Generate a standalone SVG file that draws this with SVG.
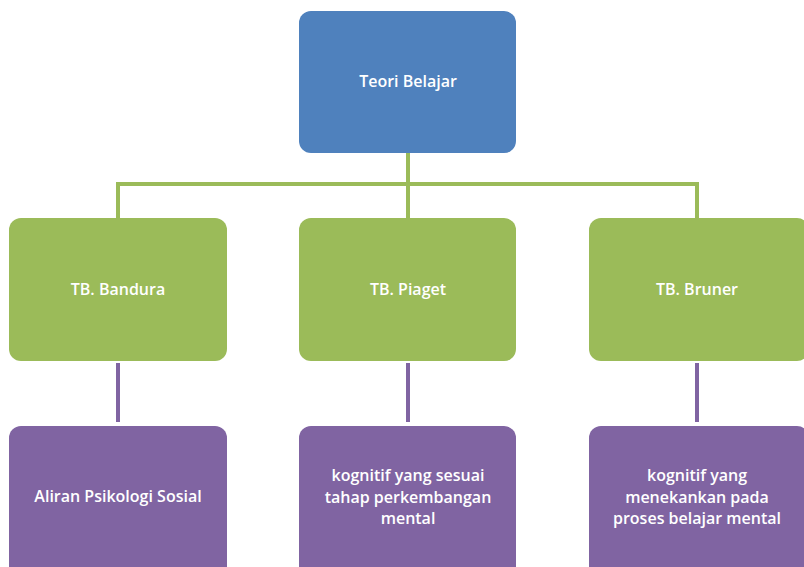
<svg xmlns="http://www.w3.org/2000/svg" width="804" height="567" viewBox="0 0 804 567">
  <style>
    .box-blue { fill: #4F81BD; }
    .box-green { fill: #9BBB59; }
    .box-purple { fill: #8064A2; }
    .lbl { fill: #FFFFFF; font-family: "Open Sans", "Liberation Sans", sans-serif; font-size: 16px; font-weight: 600; text-anchor: middle; dominant-baseline: central; }
    .ln-green { stroke: #9BBB59; stroke-width: 4; fill: none; }
    .ln-purple { stroke: #8064A2; stroke-width: 4; fill: none; }
  </style>
  <rect width="804" height="567" fill="#FFFFFF"/>

  <!-- connectors -->
  <g id="connectors">
    <path class="ln-green" d="M408 153 V184"/>
    <path class="ln-green" d="M118 218 V184 H697 V218"/>
    <path class="ln-green" d="M408 184 V218"/>
    <path class="ln-purple" d="M118 363 V422"/>
    <path class="ln-purple" d="M408 363 V422"/>
    <path class="ln-purple" d="M697 363 V422"/>
  </g>

  <!-- root -->
  <g id="teori-belajar">
    <rect class="box-blue" x="299" y="11" width="217" height="142" rx="12"/>
    <text class="lbl" x="408" y="81">Teori Belajar</text>
  </g>

  <!-- level 2 -->
  <g id="tb-bandura">
    <rect class="box-green" x="9" y="218" width="218" height="143" rx="12"/>
    <text class="lbl" x="118" y="289">TB. Bandura</text>
  </g>
  <g id="tb-piaget">
    <rect class="box-green" x="299" y="218" width="217" height="143" rx="12"/>
    <text class="lbl" x="408" y="289">TB. Piaget</text>
  </g>
  <g id="tb-bruner">
    <rect class="box-green" x="589" y="218" width="220" height="143" rx="12"/>
    <text class="lbl" x="697" y="289">TB. Bruner</text>
  </g>

  <!-- level 3 -->
  <g id="aliran-psikologi-sosial">
    <rect class="box-purple" x="9" y="426" width="218" height="160" rx="12"/>
    <text class="lbl" x="118" y="496">Aliran Psikologi Sosial</text>
  </g>
  <g id="kognitif-piaget">
    <rect class="box-purple" x="299" y="426" width="217" height="160" rx="12"/>
    <text class="lbl" x="408" y="475">kognitif yang sesuai</text>
    <text class="lbl" x="408" y="496.5">tahap perkembangan</text>
    <text class="lbl" x="408" y="518">mental</text>
  </g>
  <g id="kognitif-bruner">
    <rect class="box-purple" x="589" y="426" width="220" height="160" rx="12"/>
    <text class="lbl" x="697" y="475">kognitif yang</text>
    <text class="lbl" x="697" y="496.5">menekankan pada</text>
    <text class="lbl" x="697" y="518">proses belajar mental</text>
  </g>
</svg>
